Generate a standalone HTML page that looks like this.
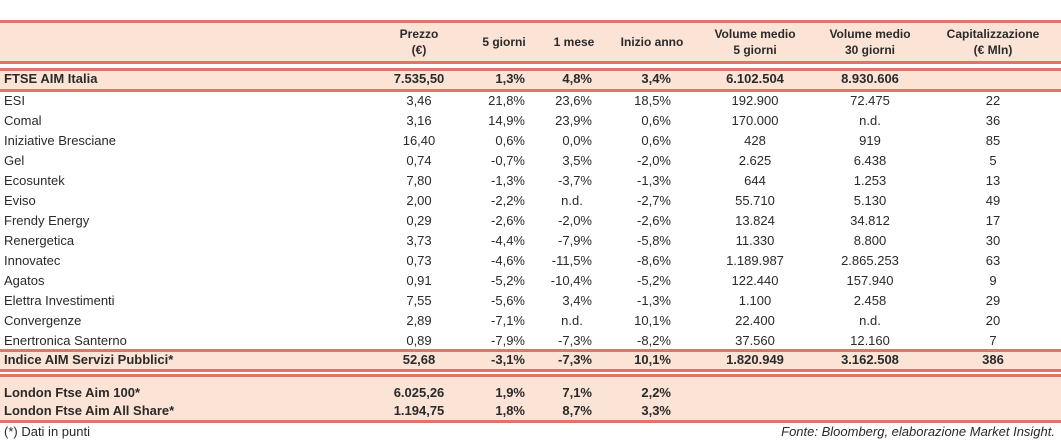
<!DOCTYPE html>
<html><head><meta charset="utf-8">
<style>
body{margin:0;width:1061px;height:443px;background:#fff;position:relative;overflow:hidden;font-family:"Liberation Sans","DejaVu Sans",sans-serif;color:#2a2a2a;font-size:13px}
.ln{position:absolute;left:0;width:1061px;height:3px;background:#e07468}
.bg{position:absolute;left:0;width:1061px;background:#fbe4d6}
.t{position:absolute;white-space:nowrap;line-height:16px}
.b{font-weight:bold}
.h{font-weight:bold;font-size:12px;text-align:center;line-height:16px}
</style></head><body>
<div class="bg" style="top:21px;height:42px"></div>
<div class="bg" style="top:69px;height:22px"></div>
<div class="bg" style="top:350px;height:21px"></div>
<div class="bg" style="top:375px;height:47px"></div>
<div class="ln" style="top:20px"></div>
<div class="ln" style="top:61px"></div>
<div class="ln" style="top:68px"></div>
<div class="ln" style="top:89px"></div>
<div class="ln" style="top:349px"></div>
<div class="ln" style="top:369px"></div>
<div class="ln" style="top:374px"></div>
<div class="ln" style="top:420px"></div>
<div id="tbl"></div>
<div class="t" style="left:4px;top:424px">(*) Dati in punti</div>
<div class="t" style="right:6px;top:424px;font-style:italic">Fonte: Bloomberg, elaborazione Market Insight.</div>
<script>
const headers=[["Prezzo","(€)"],["5 giorni"],["1 mese"],["Inizio anno"],["Volume medio","5 giorni"],["Volume medio","30 giorni"],["Capitalizzazione","(€ Mln)"]];
const names=["FTSE AIM Italia","ESI","Comal","Iniziative Bresciane","Gel","Ecosuntek","Eviso","Frendy Energy","Renergetica","Innovatec","Agatos","Elettra Investimenti","Convergenze","Enertronica Santerno","Indice AIM Servizi Pubblici*","London Ftse Aim 100*","London Ftse Aim All Share*"];
const prices=["7.535,50","3,46","3,16","16,40","0,74","7,80","2,00","0,29","3,73","0,73","0,91","7,55","2,89","0,89","52,68","6.025,26","1.194,75"];
const d5=["1,3%","21,8%","14,9%","0,6%","-0,7%","-1,3%","-2,2%","-2,6%","-4,4%","-4,6%","-5,2%","-5,6%","-7,1%","-7,9%","-3,1%","1,9%","1,8%"];
const m1=["4,8%","23,6%","23,9%","0,0%","3,5%","-3,7%","n.d.","-2,0%","-7,9%","-11,5%","-10,4%","3,4%","n.d.","-7,3%","-7,3%","7,1%","8,7%"];
const ytd=["3,4%","18,5%","0,6%","0,6%","-2,0%","-1,3%","-2,7%","-2,6%","-5,8%","-8,6%","-5,2%","-1,3%","10,1%","-8,2%","10,1%","2,2%","3,3%"];
const vol5=["6.102.504","192.900","170.000","428","2.625","644","55.710","13.824","11.330","1.189.987","122.440","1.100","22.400","37.560","1.820.949","",""];
const vol30=["8.930.606","72.475","n.d.","919","6.438","1.253","5.130","34.812","8.800","2.865.253","157.940","2.458","n.d.","12.160","3.162.508","",""];
const cap=["","22","36","85","5","13","49","17","30","63","9","29","20","7","386","",""];
const tbl=document.getElementById('tbl');
const hc=[419,504,574,652,755,870,993];
function add(txt,x,y,align,bold,cls){
  const e=document.createElement('div');
  e.className='t'+(bold?' b':'')+(cls?' '+cls:'');
  e.textContent=txt;
  e.style.top=y+'px';
  if(align==='c'){e.style.left=(x-100)+'px';e.style.width='200px';e.style.textAlign='center';}
  else if(align==='r'){e.style.right=(1061-x)+'px';}
  else e.style.left=x+'px';
  
  
  tbl.appendChild(e);
}
headers.forEach((h,i)=>{
  const e=document.createElement('div');
  e.className='t h';
  e.style.left=(hc[i]-70)+'px';e.style.width='140px';
  e.style.top=(h.length>1?26:34)+'px';
  e.innerHTML=h.join('<br>');
  
  
  tbl.appendChild(e);
});
function rowY(i){ if(i===0) return 71; if(i<=13) return 93+(i-1)*20; if(i===14) return 352; return 385+(i-15)*18; }
names.forEach((n,i)=>{
  const y=rowY(i), bold=(i===0||i>=14);
  add(n,4,y,'l',bold);
  add(prices[i],hc[0],y,'c',bold);
  add(d5[i],525,y,'r',bold);
  if(m1[i]==='n.d.') add(m1[i],572,y,'c',bold); else add(m1[i],592,y,'r',bold);
  add(ytd[i],671,y,'r',bold);
  add(vol5[i],hc[4],y,'c',bold);
  add(vol30[i],hc[5],y,'c',bold);
  add(cap[i],hc[6],y,'c',bold);
});
</script>
</body></html>
